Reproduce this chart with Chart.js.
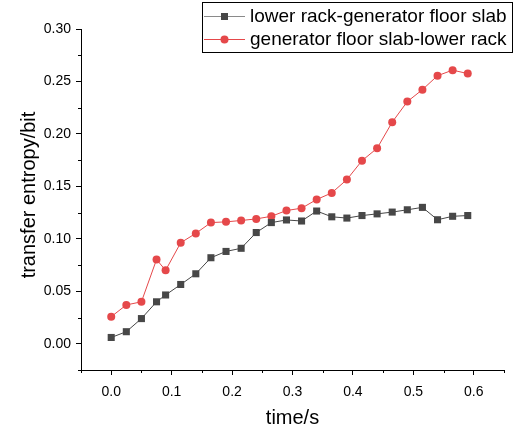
<!DOCTYPE html>
<html>
<head>
<meta charset="utf-8">
<script src="https://cdn.jsdelivr.net/npm/chart.js@4.4.1/dist/chart.umd.min.js"></script>
<style>
  html, body { margin: 0; padding: 0; background: #fff; }
  #wrap { width: 515px; height: 430px; position: relative; }
</style>
</head>
<body>
<div id="wrap"><canvas id="teChart"></canvas></div>
<script>
// time (s)
const times = [0, 0.025, 0.05, 0.075, 0.09, 0.115, 0.14, 0.165, 0.19, 0.215, 0.24, 0.265, 0.29,
               0.315, 0.34, 0.365, 0.39, 0.415, 0.44, 0.465, 0.49, 0.515, 0.54, 0.565, 0.59];
// lower rack -> generator floor slab
const rackToSlab = [0.006, 0.0115, 0.024, 0.040, 0.0465, 0.0565, 0.0667, 0.082, 0.088, 0.091, 0.106,
                    0.1155, 0.118, 0.117, 0.1265, 0.121, 0.1198, 0.1222, 0.1238, 0.1255, 0.1277, 0.130,
                    0.1182, 0.1215, 0.1222];
// generator floor slab -> lower rack
const slabToRack = [0.0258, 0.037, 0.040, 0.0803, 0.070, 0.0963, 0.1052, 0.1155, 0.1162, 0.1175, 0.119,
                    0.1215, 0.127, 0.1292, 0.1375, 0.1438, 0.1565, 0.1745, 0.1863, 0.2112, 0.2308, 0.2422,
                    0.2555, 0.2608, 0.2575];
const seriesNames = ['lower rack-generator floor slab', 'generator floor slab-lower rack'];
const xTicks = [0, 0.1, 0.2, 0.3, 0.4, 0.5, 0.6];
const yTicks = [0, 0.05, 0.10, 0.15, 0.20, 0.25, 0.30];

const FONT = '"Liberation Sans", Arial, sans-serif';
const GREY = '#474747';
const RED = '#e5484a';

function toPoints(ys) {
    return times.map((t, i) => ({ x: t, y: ys[i] }));
}

// minor ticks, axis titles and the framed legend
const extras = {
    id: 'extras',
    afterDraw(chart) {
        const ctx = chart.ctx;
        const xs = chart.scales.x;
        const ys = chart.scales.y;
        const area = chart.chartArea;
        ctx.save();
        ctx.strokeStyle = '#000';
        ctx.lineWidth = 1;
        ctx.beginPath();
        for (let v = xs.min; v <= xs.max + 1e-9; v += 0.1) {
            const px = Math.round(xs.getPixelForValue(v)) + 0.5;
            ctx.moveTo(px, area.bottom);
            ctx.lineTo(px, area.bottom + 3);
        }
        for (let v = ys.min; v <= ys.max + 1e-9; v += 0.05) {
            const py = Math.round(ys.getPixelForValue(v)) + 0.5;
            ctx.moveTo(area.left, py);
            ctx.lineTo(area.left - 3, py);
        }
        ctx.stroke();

        ctx.fillStyle = '#000';
        ctx.font = '20px ' + FONT;
        ctx.textAlign = 'center';
        ctx.textBaseline = 'middle';
        ctx.fillText('time/s', (area.left + area.right) / 2, 418);
        ctx.save();
        ctx.translate(29, 195);
        ctx.rotate(-Math.PI / 2);
        ctx.fillText('transfer entropy/bit', 0, 0);
        ctx.restore();

        // legend
        ctx.strokeStyle = '#000';
        ctx.strokeRect(202.5, 2.5, 310, 50);
        const rows = [
            { y: 16, color: GREY, line: '#8a8a8a', shape: 'rect' },
            { y: 39, color: RED, line: RED, shape: 'circle' }
        ];
        ctx.font = '19px ' + FONT;
        ctx.textAlign = 'left';
        rows.forEach((r, i) => {
            ctx.strokeStyle = r.line;
            ctx.beginPath();
            ctx.moveTo(204, r.y + 0.5);
            ctx.lineTo(245, r.y + 0.5);
            ctx.stroke();
            ctx.fillStyle = r.color;
            if (r.shape === 'rect') {
                ctx.fillRect(221, r.y - 3, 7, 7);
            } else {
                ctx.beginPath();
                ctx.arc(224.5, r.y + 0.5, 4, 0, Math.PI * 2);
                ctx.fill();
            }
            ctx.fillStyle = '#000';
            ctx.fillText(seriesNames[i], 250, r.y + 1);
        });
        ctx.restore();
    }
};

document.addEventListener('DOMContentLoaded', function () {
    const el = document.getElementById('teChart');

    new Chart(el, {
        type: 'line',
        data: {
            datasets: [{
                label: seriesNames[0],
                data: toPoints(rackToSlab),
                borderColor: GREY,
                backgroundColor: GREY,
                borderWidth: 1,
                pointStyle: 'rect',
                pointRadius: 5,
                pointBorderWidth: 0,
                tension: 0
            }, {
                label: seriesNames[1],
                data: toPoints(slabToRack),
                borderColor: RED,
                backgroundColor: RED,
                borderWidth: 1,
                pointStyle: 'circle',
                pointRadius: 4,
                pointBorderWidth: 0,
                tension: 0
            }]
        },
        options: {
            responsive: true,
            maintainAspectRatio: false,
            animation: false,
            layout: { padding: { top: 29, right: 11, left: 0, bottom: 0 } },
            plugins: {
                legend: { display: false },
                tooltip: { enabled: false }
            },
            scales: {
                x: {
                    type: 'linear',
                    min: -0.05,
                    max: 0.65,
                    afterBuildTicks: s => { s.ticks = xTicks.map(v => ({ value: v })); },
                    afterFit: s => { s.height = 60; },
                    border: { display: true, color: '#000', width: 1 },
                    grid: { drawOnChartArea: false, drawTicks: true, tickLength: 5, color: '#000' },
                    ticks: {
                        color: '#000',
                        font: { family: FONT, size: 14 },
                        padding: 9,
                        maxRotation: 0,
                        autoSkip: false,
                        callback: v => v.toFixed(1)
                    }
                },
                y: {
                    min: -0.025,
                    max: 0.30,
                    afterBuildTicks: s => { s.ticks = yTicks.map(v => ({ value: v })); },
                    afterFit: s => { s.width = 81; },
                    border: { display: true, color: '#000', width: 1 },
                    grid: { drawOnChartArea: false, drawTicks: true, tickLength: 5, color: '#000' },
                    ticks: {
                        color: '#000',
                        font: { family: FONT, size: 14 },
                        padding: 5,
                        autoSkip: false,
                        callback: v => v.toFixed(2)
                    }
                }
            }
        },
        plugins: [extras]
    });
});
</script>
</body>
</html>
